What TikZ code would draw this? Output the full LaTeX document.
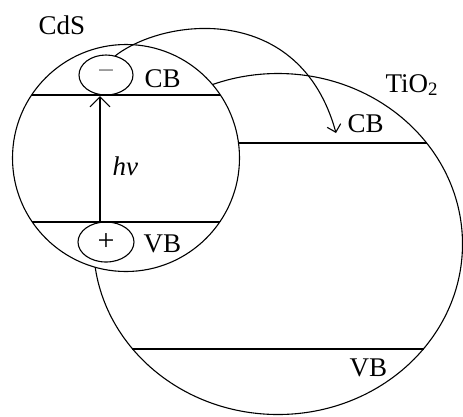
\documentclass[tikz,border=0pt]{standalone}
\usepackage{fontspec}
\setmainfont{Liberation Serif}
\usetikzlibrary{arrows.meta,shapes.geometric}
\begin{document}
\begin{tikzpicture}[x=1pt,y=-1pt,line width=1.1pt,
  lbl/.style={inner sep=0pt,anchor=base west,font=\fontsize{27}{31}\selectfont},
  band/.style={line width=1.2pt},
  carrier/.style={draw,ellipse,inner sep=0pt,font=\fontsize{30}{34}\selectfont}]
\useasboundingbox (0,0) rectangle (463,416);
% TiO2 particle
\node[draw,ellipse,minimum width=369pt,minimum height=341pt,inner sep=0pt] (tio2) at (278,244) {};
\coordinate (tcbL) at (230,143);
\coordinate (tcbR) at (427.3,143);
\coordinate (tvbL) at (132,349);
\coordinate (tvbR) at (424,349);
\draw[band] (tcbL) -- (tcbR);
\draw[band] (tvbL) -- (tvbR);
% CdS particle
\node[draw,circle,fill=white,minimum size=227pt,inner sep=0pt] (cds) at (126,158) {};
\coordinate (ccbL) at (31.6,95);
\coordinate (ccbR) at (220.4,95);
\coordinate (cvbL) at (32.3,222);
\coordinate (cvbR) at (219.7,222);
\draw[band] (ccbL) -- (ccbR);
\draw[band] (cvbL) -- (cvbR);
% carriers
\node[carrier,minimum width=54pt,minimum height=40pt] (el) at (106,75) {\textcolor{gray}{−}};
\node[carrier,minimum width=56pt,minimum height=40pt] (ho) at (106,242) {+};
% excitation
\coordinate (hvb) at (100,222);
\coordinate (hcb) at (100,96);
\draw[-{Straight Barb[length=10pt,width=20pt]}] (hvb) -- (hcb);
% transfer
\coordinate (cstart) at (115,56);
\coordinate (cend) at (336,133);
\draw[-{Straight Barb[length=7pt,width=14pt]}] (cstart) .. controls (165,17) and (300,2) .. (cend);
% labels
\node[lbl] (lcds) at (38,34) {CdS};
\node[lbl] (lccb) at (144,87) {CB};
\node[lbl] (lcvb) at (143,252) {VB};
\node[lbl] (ltio) at (385,92) {TiO\textsubscript{2}};
\node[lbl] (ltcb) at (347,132) {CB};
\node[lbl] (ltvb) at (349,376) {VB};
\node[lbl] (lhv) at (112,175) {\textit{hν}};
\end{tikzpicture}
\end{document}
